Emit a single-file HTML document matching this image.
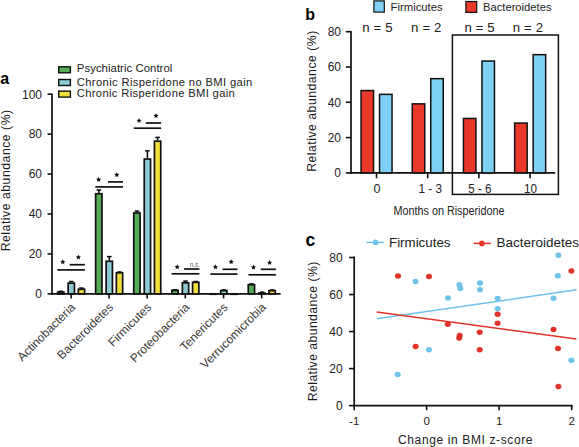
<!DOCTYPE html>
<html><head><meta charset="utf-8"><style>
html,body{margin:0;padding:0;background:#fff;width:579px;height:447px;overflow:hidden}
svg{display:block}
text{font-family:"Liberation Sans",sans-serif}
</style></head><body>
<svg width="579" height="447" viewBox="0 0 579 447">
<rect width="579" height="447" fill="#fff"/>
<text x="0.30" y="83.70" font-size="16" text-anchor="start" font-weight="bold" fill="#000" >a</text>
<rect x="58.7" y="66.8" width="11.7" height="6" fill="#55ad55" stroke="#111" stroke-width="1.4"/>
<rect x="58.7" y="79.5" width="11.7" height="6" fill="#8ccad4" stroke="#111" stroke-width="1.4"/>
<rect x="58.7" y="91.1" width="11.7" height="6" fill="#f0dc3a" stroke="#111" stroke-width="1.4"/>
<text x="76.80" y="72.00" font-size="11.4" text-anchor="start" fill="#222" textLength="95.5" lengthAdjust="spacing" >Psychiatric Control</text>
<text x="76.80" y="85.50" font-size="11.2" text-anchor="start" fill="#222" textLength="175.5" lengthAdjust="spacing" >Chronic Risperidone no BMI gain</text>
<text x="76.80" y="97.10" font-size="11.2" text-anchor="start" fill="#222" textLength="158" lengthAdjust="spacing" >Chronic Risperidone BMI gain</text>
<line x1="52.00" y1="93.60" x2="52.00" y2="294.80" stroke="#111" stroke-width="1.7"/>
<line x1="47.60" y1="293.90" x2="52.00" y2="293.90" stroke="#111" stroke-width="1.6"/>
<text x="42.00" y="298.20" font-size="12" text-anchor="end" fill="#222" >0</text>
<line x1="47.60" y1="253.96" x2="52.00" y2="253.96" stroke="#111" stroke-width="1.6"/>
<text x="42.00" y="258.26" font-size="12" text-anchor="end" fill="#222" >20</text>
<line x1="47.60" y1="214.02" x2="52.00" y2="214.02" stroke="#111" stroke-width="1.6"/>
<text x="42.00" y="218.32" font-size="12" text-anchor="end" fill="#222" >40</text>
<line x1="47.60" y1="174.08" x2="52.00" y2="174.08" stroke="#111" stroke-width="1.6"/>
<text x="42.00" y="178.38" font-size="12" text-anchor="end" fill="#222" >60</text>
<line x1="47.60" y1="134.14" x2="52.00" y2="134.14" stroke="#111" stroke-width="1.6"/>
<text x="42.00" y="138.44" font-size="12" text-anchor="end" fill="#222" >80</text>
<line x1="47.60" y1="94.20" x2="52.00" y2="94.20" stroke="#111" stroke-width="1.6"/>
<text x="42.00" y="98.50" font-size="12" text-anchor="end" fill="#222" >100</text>
<text transform="translate(10.3,180.6) rotate(-90)" font-size="12.2" text-anchor="middle" fill="#1a1a1a" textLength="141.5" lengthAdjust="spacing">Relative abundance (%)</text>
<line x1="51.20" y1="293.90" x2="280.60" y2="293.90" stroke="#111" stroke-width="1.8"/>
<line x1="71.10" y1="293.90" x2="71.10" y2="298.40" stroke="#111" stroke-width="1.6"/>
<text transform="translate(76.00,308) rotate(-45)" font-size="12" text-anchor="end" fill="#383838">Actinobacteria</text>
<line x1="109.10" y1="293.90" x2="109.10" y2="298.40" stroke="#111" stroke-width="1.6"/>
<text transform="translate(114.00,308) rotate(-45)" font-size="12" text-anchor="end" fill="#383838">Bacteroidetes</text>
<line x1="147.20" y1="293.90" x2="147.20" y2="298.40" stroke="#111" stroke-width="1.6"/>
<text transform="translate(152.10,308) rotate(-45)" font-size="12" text-anchor="end" fill="#383838">Firmicutes</text>
<line x1="185.30" y1="293.90" x2="185.30" y2="298.40" stroke="#111" stroke-width="1.6"/>
<text transform="translate(190.20,308) rotate(-45)" font-size="12" text-anchor="end" fill="#383838">Proteobacteria</text>
<line x1="223.60" y1="293.90" x2="223.60" y2="298.40" stroke="#111" stroke-width="1.6"/>
<text transform="translate(228.50,308) rotate(-45)" font-size="12" text-anchor="end" fill="#383838">Tenericutes</text>
<line x1="261.70" y1="293.90" x2="261.70" y2="298.40" stroke="#111" stroke-width="1.6"/>
<text transform="translate(266.60,308) rotate(-45)" font-size="12" text-anchor="end" fill="#383838">Verrucomicrobia</text>
<line x1="60.80" y1="291.20" x2="60.80" y2="290.90" stroke="#111" stroke-width="1.6"/>
<line x1="58.50" y1="291.30" x2="63.10" y2="291.30" stroke="#111" stroke-width="1.5"/>
<rect x="57.65" y="292.05" width="6.30" height="1.85" fill="#55ad55" stroke="#111" stroke-width="1.7"/>
<line x1="71.30" y1="282.30" x2="71.30" y2="281.10" stroke="#111" stroke-width="1.6"/>
<line x1="69.00" y1="281.50" x2="73.60" y2="281.50" stroke="#111" stroke-width="1.5"/>
<rect x="68.15" y="283.15" width="6.30" height="10.75" fill="#8ccad4" stroke="#111" stroke-width="1.7"/>
<line x1="81.50" y1="288.40" x2="81.50" y2="287.70" stroke="#111" stroke-width="1.6"/>
<line x1="79.20" y1="288.10" x2="83.80" y2="288.10" stroke="#111" stroke-width="1.5"/>
<rect x="78.35" y="289.25" width="6.30" height="4.65" fill="#f0dc3a" stroke="#111" stroke-width="1.7"/>
<line x1="98.80" y1="192.90" x2="98.80" y2="189.60" stroke="#111" stroke-width="1.6"/>
<line x1="96.50" y1="190.00" x2="101.10" y2="190.00" stroke="#111" stroke-width="1.5"/>
<rect x="95.65" y="193.75" width="6.30" height="100.15" fill="#55ad55" stroke="#111" stroke-width="1.7"/>
<line x1="109.30" y1="260.40" x2="109.30" y2="256.20" stroke="#111" stroke-width="1.6"/>
<line x1="107.00" y1="256.60" x2="111.60" y2="256.60" stroke="#111" stroke-width="1.5"/>
<rect x="106.15" y="261.25" width="6.30" height="32.65" fill="#8ccad4" stroke="#111" stroke-width="1.7"/>
<line x1="119.50" y1="272.00" x2="119.50" y2="271.60" stroke="#111" stroke-width="1.6"/>
<line x1="117.20" y1="272.00" x2="121.80" y2="272.00" stroke="#111" stroke-width="1.5"/>
<rect x="116.35" y="272.85" width="6.30" height="21.05" fill="#f0dc3a" stroke="#111" stroke-width="1.7"/>
<line x1="136.90" y1="212.10" x2="136.90" y2="210.70" stroke="#111" stroke-width="1.6"/>
<line x1="134.60" y1="211.10" x2="139.20" y2="211.10" stroke="#111" stroke-width="1.5"/>
<rect x="133.75" y="212.95" width="6.30" height="80.95" fill="#55ad55" stroke="#111" stroke-width="1.7"/>
<line x1="147.40" y1="158.20" x2="147.40" y2="150.40" stroke="#111" stroke-width="1.6"/>
<line x1="145.10" y1="150.80" x2="149.70" y2="150.80" stroke="#111" stroke-width="1.5"/>
<rect x="144.25" y="159.05" width="6.30" height="134.85" fill="#8ccad4" stroke="#111" stroke-width="1.7"/>
<line x1="157.60" y1="140.30" x2="157.60" y2="137.00" stroke="#111" stroke-width="1.6"/>
<line x1="155.30" y1="137.40" x2="159.90" y2="137.40" stroke="#111" stroke-width="1.5"/>
<rect x="154.45" y="141.15" width="6.30" height="152.75" fill="#f0dc3a" stroke="#111" stroke-width="1.7"/>
<line x1="175.00" y1="289.50" x2="175.00" y2="289.30" stroke="#111" stroke-width="1.6"/>
<line x1="172.70" y1="289.70" x2="177.30" y2="289.70" stroke="#111" stroke-width="1.5"/>
<rect x="171.85" y="290.35" width="6.30" height="3.55" fill="#55ad55" stroke="#111" stroke-width="1.7"/>
<line x1="185.50" y1="282.00" x2="185.50" y2="280.70" stroke="#111" stroke-width="1.6"/>
<line x1="183.20" y1="281.10" x2="187.80" y2="281.10" stroke="#111" stroke-width="1.5"/>
<rect x="182.35" y="282.85" width="6.30" height="11.05" fill="#8ccad4" stroke="#111" stroke-width="1.7"/>
<line x1="195.70" y1="281.50" x2="195.70" y2="281.10" stroke="#111" stroke-width="1.6"/>
<line x1="193.40" y1="281.50" x2="198.00" y2="281.50" stroke="#111" stroke-width="1.5"/>
<rect x="192.55" y="282.35" width="6.30" height="11.55" fill="#f0dc3a" stroke="#111" stroke-width="1.7"/>
<line x1="213.30" y1="293.30" x2="213.30" y2="293.30" stroke="#111" stroke-width="1.6"/>
<line x1="211.00" y1="293.70" x2="215.60" y2="293.70" stroke="#111" stroke-width="1.5"/>
<rect x="210.15" y="294.15" width="6.30" height="0.10" fill="#55ad55" stroke="#111" stroke-width="1.7"/>
<line x1="223.80" y1="289.80" x2="223.80" y2="289.50" stroke="#111" stroke-width="1.6"/>
<line x1="221.50" y1="289.90" x2="226.10" y2="289.90" stroke="#111" stroke-width="1.5"/>
<rect x="220.65" y="290.65" width="6.30" height="3.25" fill="#8ccad4" stroke="#111" stroke-width="1.7"/>
<line x1="234.00" y1="293.30" x2="234.00" y2="293.30" stroke="#111" stroke-width="1.6"/>
<line x1="231.70" y1="293.70" x2="236.30" y2="293.70" stroke="#111" stroke-width="1.5"/>
<rect x="230.85" y="294.15" width="6.30" height="0.10" fill="#f0dc3a" stroke="#111" stroke-width="1.7"/>
<line x1="251.40" y1="283.90" x2="251.40" y2="283.50" stroke="#111" stroke-width="1.6"/>
<line x1="249.10" y1="283.90" x2="253.70" y2="283.90" stroke="#111" stroke-width="1.5"/>
<rect x="248.25" y="284.75" width="6.30" height="9.15" fill="#55ad55" stroke="#111" stroke-width="1.7"/>
<line x1="261.90" y1="292.20" x2="261.90" y2="291.80" stroke="#111" stroke-width="1.6"/>
<line x1="259.60" y1="292.20" x2="264.20" y2="292.20" stroke="#111" stroke-width="1.5"/>
<rect x="258.75" y="293.05" width="6.30" height="0.85" fill="#8ccad4" stroke="#111" stroke-width="1.7"/>
<line x1="272.10" y1="289.80" x2="272.10" y2="289.60" stroke="#111" stroke-width="1.6"/>
<line x1="269.80" y1="290.00" x2="274.40" y2="290.00" stroke="#111" stroke-width="1.5"/>
<rect x="268.95" y="290.65" width="6.30" height="3.25" fill="#f0dc3a" stroke="#111" stroke-width="1.7"/>
<line x1="57.30" y1="269.90" x2="84.90" y2="269.90" stroke="#111" stroke-width="1.7"/>
<line x1="69.70" y1="264.70" x2="84.90" y2="264.70" stroke="#111" stroke-width="1.7"/>
<polygon points="62.80,259.35 63.58,260.93 65.32,261.18 64.06,262.41 64.36,264.14 62.80,263.32 61.24,264.14 61.54,262.41 60.28,261.18 62.02,260.93" fill="#111"/>
<polygon points="78.40,254.65 79.18,256.23 80.92,256.48 79.66,257.71 79.96,259.44 78.40,258.62 76.84,259.44 77.14,257.71 75.88,256.48 77.62,256.23" fill="#111"/>
<line x1="95.30" y1="186.90" x2="123.00" y2="186.90" stroke="#111" stroke-width="1.7"/>
<line x1="108.00" y1="181.90" x2="123.00" y2="181.90" stroke="#111" stroke-width="1.7"/>
<polygon points="98.60,176.95 99.38,178.53 101.12,178.78 99.86,180.01 100.16,181.74 98.60,180.92 97.04,181.74 97.34,180.01 96.08,178.78 97.82,178.53" fill="#111"/>
<polygon points="116.80,172.25 117.58,173.83 119.32,174.08 118.06,175.31 118.36,177.04 116.80,176.22 115.24,177.04 115.54,175.31 114.28,174.08 116.02,173.83" fill="#111"/>
<line x1="133.70" y1="128.20" x2="161.10" y2="128.20" stroke="#111" stroke-width="1.7"/>
<line x1="145.80" y1="123.00" x2="161.10" y2="123.00" stroke="#111" stroke-width="1.7"/>
<polygon points="139.10,118.05 139.88,119.63 141.62,119.88 140.36,121.11 140.66,122.84 139.10,122.03 137.54,122.84 137.84,121.11 136.58,119.88 138.32,119.63" fill="#111"/>
<polygon points="156.00,113.25 156.78,114.83 158.52,115.08 157.26,116.31 157.56,118.04 156.00,117.23 154.44,118.04 154.74,116.31 153.48,115.08 155.22,114.83" fill="#111"/>
<line x1="171.60" y1="273.80" x2="199.40" y2="273.80" stroke="#111" stroke-width="1.7"/>
<line x1="184.10" y1="269.00" x2="199.40" y2="269.00" stroke="#111" stroke-width="1.7"/>
<polygon points="177.20,264.35 177.98,265.93 179.72,266.18 178.46,267.41 178.76,269.14 177.20,268.32 175.64,269.14 175.94,267.41 174.68,266.18 176.42,265.93" fill="#111"/>
<line x1="210.40" y1="274.10" x2="237.50" y2="274.10" stroke="#111" stroke-width="1.7"/>
<line x1="222.60" y1="269.30" x2="237.50" y2="269.30" stroke="#111" stroke-width="1.7"/>
<polygon points="215.40,264.35 216.18,265.93 217.92,266.18 216.66,267.41 216.96,269.14 215.40,268.32 213.84,269.14 214.14,267.41 212.88,266.18 214.62,265.93" fill="#111"/>
<polygon points="231.20,259.25 231.98,260.83 233.72,261.08 232.46,262.31 232.76,264.04 231.20,263.22 229.64,264.04 229.94,262.31 228.68,261.08 230.42,260.83" fill="#111"/>
<line x1="248.50" y1="274.80" x2="275.90" y2="274.80" stroke="#111" stroke-width="1.7"/>
<line x1="260.70" y1="269.30" x2="275.90" y2="269.30" stroke="#111" stroke-width="1.7"/>
<polygon points="253.50,264.75 254.28,266.33 256.02,266.58 254.76,267.81 255.06,269.54 253.50,268.72 251.94,269.54 252.24,267.81 250.98,266.58 252.72,266.33" fill="#111"/>
<polygon points="269.60,260.05 270.38,261.63 272.12,261.88 270.86,263.11 271.16,264.84 269.60,264.02 268.04,264.84 268.34,263.11 267.08,261.88 268.82,261.63" fill="#111"/>
<text x="194.90" y="266.50" font-size="6.5" text-anchor="middle" fill="#666" >n.s.</text>
<text x="305.30" y="20.00" font-size="16" text-anchor="start" font-weight="bold" fill="#000" >b</text>
<rect x="373.9" y="0.9" width="10.4" height="11.2" fill="#7fd0f5" stroke="#111" stroke-width="1.2"/>
<text x="390.60" y="10.90" font-size="11" text-anchor="start" fill="#222" textLength="52" lengthAdjust="spacingAndGlyphs" >Firmicutes</text>
<rect x="465.9" y="1.5" width="10.8" height="10.9" fill="#e8392a" stroke="#111" stroke-width="1.2"/>
<text x="483.00" y="11.40" font-size="11" text-anchor="start" fill="#222" textLength="68.5" lengthAdjust="spacingAndGlyphs" >Bacteroidetes</text>
<line x1="351.00" y1="31.00" x2="351.00" y2="173.70" stroke="#111" stroke-width="1.7"/>
<line x1="345.80" y1="172.90" x2="351.00" y2="172.90" stroke="#111" stroke-width="1.6"/>
<text x="341.00" y="177.20" font-size="12" text-anchor="end" fill="#222" >0</text>
<line x1="345.80" y1="137.60" x2="351.00" y2="137.60" stroke="#111" stroke-width="1.6"/>
<text x="341.00" y="141.90" font-size="12" text-anchor="end" fill="#222" >20</text>
<line x1="345.80" y1="102.30" x2="351.00" y2="102.30" stroke="#111" stroke-width="1.6"/>
<text x="341.00" y="106.60" font-size="12" text-anchor="end" fill="#222" >40</text>
<line x1="345.80" y1="67.00" x2="351.00" y2="67.00" stroke="#111" stroke-width="1.6"/>
<text x="341.00" y="71.30" font-size="12" text-anchor="end" fill="#222" >60</text>
<line x1="345.80" y1="31.70" x2="351.00" y2="31.70" stroke="#111" stroke-width="1.6"/>
<text x="341.00" y="36.00" font-size="12" text-anchor="end" fill="#222" >80</text>
<text transform="translate(315.9,101.3) rotate(-90)" font-size="12.2" text-anchor="middle" fill="#1a1a1a" textLength="141" lengthAdjust="spacing">Relative abundance (%)</text>
<line x1="350.20" y1="172.90" x2="555.20" y2="172.90" stroke="#111" stroke-width="1.8"/>
<line x1="376.50" y1="172.90" x2="376.50" y2="178.30" stroke="#111" stroke-width="1.6"/>
<rect x="361.05" y="90.55" width="12.50" height="82.35" fill="#e8392a" stroke="#111" stroke-width="1.5"/>
<rect x="379.55" y="94.35" width="12.50" height="78.55" fill="#7fd0f5" stroke="#111" stroke-width="1.5"/>
<line x1="427.70" y1="172.90" x2="427.70" y2="178.30" stroke="#111" stroke-width="1.6"/>
<rect x="412.25" y="103.85" width="12.50" height="69.05" fill="#e8392a" stroke="#111" stroke-width="1.5"/>
<rect x="430.75" y="78.65" width="12.50" height="94.25" fill="#7fd0f5" stroke="#111" stroke-width="1.5"/>
<line x1="478.90" y1="172.90" x2="478.90" y2="178.30" stroke="#111" stroke-width="1.6"/>
<rect x="463.45" y="118.45" width="12.50" height="54.45" fill="#e8392a" stroke="#111" stroke-width="1.5"/>
<rect x="481.95" y="61.05" width="12.50" height="111.85" fill="#7fd0f5" stroke="#111" stroke-width="1.5"/>
<line x1="530.10" y1="172.90" x2="530.10" y2="178.30" stroke="#111" stroke-width="1.6"/>
<rect x="514.65" y="123.05" width="12.50" height="49.85" fill="#e8392a" stroke="#111" stroke-width="1.5"/>
<rect x="533.15" y="54.65" width="12.50" height="118.25" fill="#7fd0f5" stroke="#111" stroke-width="1.5"/>
<text x="373.50" y="192.50" font-size="12.5" text-anchor="start" fill="#222" >0</text>
<text x="362.20" y="31.50" font-size="13.2" text-anchor="start" fill="#222" textLength="30.3" lengthAdjust="spacing" >n = 5</text>
<text x="411.10" y="31.50" font-size="13.2" text-anchor="start" fill="#222" textLength="30.3" lengthAdjust="spacing" >n = 2</text>
<text x="464.40" y="31.50" font-size="13.2" text-anchor="start" fill="#222" textLength="30.3" lengthAdjust="spacing" >n = 5</text>
<text x="512.70" y="31.50" font-size="13.2" text-anchor="start" fill="#222" textLength="30.3" lengthAdjust="spacing" >n = 2</text>
<text x="418.40" y="192.50" font-size="12.5" text-anchor="start" fill="#222" textLength="23.7" lengthAdjust="spacingAndGlyphs" >1 - 3</text>
<text x="468.30" y="192.50" font-size="12.5" text-anchor="start" fill="#222" textLength="23.1" lengthAdjust="spacingAndGlyphs" >5 - 6</text>
<text x="523.90" y="192.50" font-size="12.5" text-anchor="start" fill="#222" textLength="13" lengthAdjust="spacingAndGlyphs" >10</text>
<rect x="452.4" y="35.0" width="106.0" height="159.4" fill="none" stroke="#111" stroke-width="1.5"/>
<text x="393.50" y="215.30" font-size="12.5" text-anchor="start" fill="#222" textLength="111" lengthAdjust="spacingAndGlyphs" >Months on Risperidone</text>
<text x="305.60" y="245.90" font-size="17.5" text-anchor="start" font-weight="bold" fill="#000" >c</text>
<line x1="366.60" y1="242.40" x2="383.70" y2="242.40" stroke="#6fc3ea" stroke-width="1.5"/>
<circle cx="375.6" cy="242.4" r="2.8" fill="#6fc3ea"/>
<text x="389.00" y="247.20" font-size="12.5" text-anchor="start" fill="#222" textLength="61.5" lengthAdjust="spacingAndGlyphs" >Firmicutes</text>
<line x1="473.70" y1="243.40" x2="490.80" y2="243.40" stroke="#e1332a" stroke-width="1.5"/>
<circle cx="481.9" cy="243.4" r="2.8" fill="#e1332a"/>
<text x="496.60" y="247.20" font-size="12.5" text-anchor="start" fill="#222" textLength="82.3" lengthAdjust="spacingAndGlyphs" >Bacteroidetes</text>
<line x1="354.20" y1="256.60" x2="354.20" y2="406.40" stroke="#111" stroke-width="1.7"/>
<line x1="349.00" y1="405.60" x2="354.20" y2="405.60" stroke="#111" stroke-width="1.6"/>
<text x="342.60" y="409.90" font-size="12" text-anchor="end" fill="#222" >0</text>
<line x1="349.00" y1="368.58" x2="354.20" y2="368.58" stroke="#111" stroke-width="1.6"/>
<text x="342.60" y="372.88" font-size="12" text-anchor="end" fill="#222" >20</text>
<line x1="349.00" y1="331.56" x2="354.20" y2="331.56" stroke="#111" stroke-width="1.6"/>
<text x="342.60" y="335.86" font-size="12" text-anchor="end" fill="#222" >40</text>
<line x1="349.00" y1="294.54" x2="354.20" y2="294.54" stroke="#111" stroke-width="1.6"/>
<text x="342.60" y="298.84" font-size="12" text-anchor="end" fill="#222" >60</text>
<line x1="349.00" y1="257.52" x2="354.20" y2="257.52" stroke="#111" stroke-width="1.6"/>
<text x="342.60" y="261.82" font-size="12" text-anchor="end" fill="#222" >80</text>
<text transform="translate(316.9,331.5) rotate(-90)" font-size="12.2" text-anchor="middle" fill="#1a1a1a" textLength="139.5" lengthAdjust="spacing">Relative abundance (%)</text>
<line x1="353.40" y1="405.60" x2="572.60" y2="405.60" stroke="#111" stroke-width="1.8"/>
<line x1="354.20" y1="405.60" x2="354.20" y2="410.20" stroke="#111" stroke-width="1.6"/>
<text x="354.20" y="425.20" font-size="11.5" text-anchor="middle" fill="#222" >-1</text>
<line x1="426.60" y1="405.60" x2="426.60" y2="410.20" stroke="#111" stroke-width="1.6"/>
<text x="426.60" y="425.20" font-size="11.5" text-anchor="middle" fill="#222" >0</text>
<line x1="499.10" y1="405.60" x2="499.10" y2="410.20" stroke="#111" stroke-width="1.6"/>
<text x="499.10" y="425.20" font-size="11.5" text-anchor="middle" fill="#222" >1</text>
<line x1="571.70" y1="405.60" x2="571.70" y2="410.20" stroke="#111" stroke-width="1.6"/>
<text x="571.70" y="425.20" font-size="11.5" text-anchor="middle" fill="#222" >2</text>
<text x="398.00" y="444.40" font-size="12" text-anchor="start" fill="#222" textLength="134.5" lengthAdjust="spacing" >Change in BMI z-score</text>
<line x1="376.70" y1="318.80" x2="576.60" y2="289.70" stroke="#6fc3ea" stroke-width="1.5"/>
<line x1="376.70" y1="311.90" x2="576.30" y2="339.00" stroke="#e1332a" stroke-width="1.5"/>
<ellipse cx="415.5" cy="281.5" rx="3.0" ry="2.75" fill="#6fc3ea"/>
<ellipse cx="459.4" cy="284.8" rx="3.0" ry="2.75" fill="#6fc3ea"/>
<ellipse cx="460.3" cy="288.5" rx="3.0" ry="2.75" fill="#6fc3ea"/>
<ellipse cx="448" cy="298" rx="3.0" ry="2.75" fill="#6fc3ea"/>
<ellipse cx="480" cy="283" rx="3.0" ry="2.75" fill="#6fc3ea"/>
<ellipse cx="480" cy="289.7" rx="3.0" ry="2.75" fill="#6fc3ea"/>
<ellipse cx="497.6" cy="298.6" rx="3.0" ry="2.75" fill="#6fc3ea"/>
<ellipse cx="497.6" cy="308.7" rx="3.0" ry="2.75" fill="#6fc3ea"/>
<ellipse cx="558.4" cy="255.2" rx="3.0" ry="2.75" fill="#6fc3ea"/>
<ellipse cx="557.8" cy="275.8" rx="3.0" ry="2.75" fill="#6fc3ea"/>
<ellipse cx="553.5" cy="298.2" rx="3.0" ry="2.75" fill="#6fc3ea"/>
<ellipse cx="571.4" cy="360.3" rx="3.0" ry="2.75" fill="#6fc3ea"/>
<ellipse cx="429" cy="349.7" rx="3.0" ry="2.75" fill="#6fc3ea"/>
<ellipse cx="397.7" cy="374.5" rx="3.0" ry="2.75" fill="#6fc3ea"/>
<ellipse cx="398" cy="275.9" rx="3.0" ry="2.75" fill="#e1332a"/>
<ellipse cx="429" cy="276.5" rx="3.0" ry="2.75" fill="#e1332a"/>
<ellipse cx="447.8" cy="324.2" rx="3.0" ry="2.75" fill="#e1332a"/>
<ellipse cx="459.7" cy="335.4" rx="3.0" ry="2.75" fill="#e1332a"/>
<ellipse cx="459.2" cy="338.1" rx="3.0" ry="2.75" fill="#e1332a"/>
<ellipse cx="415.6" cy="346.6" rx="3.0" ry="2.75" fill="#e1332a"/>
<ellipse cx="497.6" cy="314.3" rx="3.0" ry="2.75" fill="#e1332a"/>
<ellipse cx="497.6" cy="323.2" rx="3.0" ry="2.75" fill="#e1332a"/>
<ellipse cx="479.7" cy="332.2" rx="3.0" ry="2.75" fill="#e1332a"/>
<ellipse cx="479.7" cy="349.8" rx="3.0" ry="2.75" fill="#e1332a"/>
<ellipse cx="571.4" cy="270.9" rx="3.0" ry="2.75" fill="#e1332a"/>
<ellipse cx="553.5" cy="329.5" rx="3.0" ry="2.75" fill="#e1332a"/>
<ellipse cx="558" cy="348.4" rx="3.0" ry="2.75" fill="#e1332a"/>
<ellipse cx="558.4" cy="386.4" rx="3.0" ry="2.75" fill="#e1332a"/>
</svg>
</body></html>
